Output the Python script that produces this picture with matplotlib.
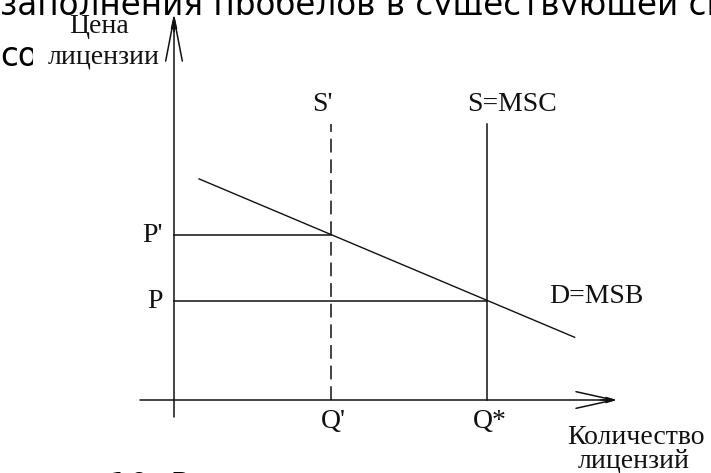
import matplotlib
matplotlib.use("Agg")
import matplotlib.pyplot as plt
from matplotlib.patches import Rectangle

# ---- data (economic diagram, arbitrary units) ----
q_labels = ["Q'", "Q*"]
q_values = [5.0, 10.0]           # Q' (licence cap), Q* (efficient quantity)
p_labels = ["P'", "P"]
p_values = [5.0, 3.0]            # P' (price at cap), P (efficient price)
supply_labels = ["S'", "S=MSC"]
supply_top = 8.35                # top of the vertical supply lines
demand_q = [0.8, 12.8]
demand_p = [6.7, 1.9]
demand_label = "D=MSB"
y_axis_label = ["Цена", "лицензии"]
x_axis_label = ["Количество", "лицензий"]
page_line1 = "заполнения пробелов в существующей си"
page_line2 = "со"
page_line3 = "10. Р"

# ---- figure geometry ----
W, H = 711, 473
OX, OY = 174, 400        # origin in pixels
QS, PS = 31.3, 33.0      # pixels per unit

def px(x, y):
    return ((x - OX) / QS, (OY - y) / PS)

fig = plt.figure(figsize=(W / 100, H / 100), dpi=100)
ax = fig.add_axes([0, 0, 1, 1])
ax.set_xlim(px(0, 0)[0], px(W, 0)[0])
ax.set_ylim(px(0, H)[1], px(0, 0)[1])
ax.axis("off")

serif = "Liberation Serif"
fs = 20
ink = "#111111"
pfs = 23.5

# background page text
ax.text(*px(0, 15), page_line1, fontsize=pfs, family="DejaVu Sans",
        color="black", va="baseline", ha="left", zorder=0)
ax.text(*px(0, 66), page_line2, fontsize=pfs, family="DejaVu Sans",
        color="black", va="baseline", ha="left", zorder=0)
ax.text(*px(108, 497), page_line3, fontsize=pfs, family="DejaVu Sans",
        color="black", va="baseline", ha="left", zorder=0, clip_on=False)

# white picture box (covers page text)
x0, y0 = px(33, 470)
x1, y1 = px(W + 5, 15)
ax.add_patch(Rectangle((x0, y0), x1 - x0, y1 - y0, facecolor="white",
                       edgecolor="none", zorder=1))

lw = 1.1
# axes with open arrows
xa0 = px(140, 0)[0]
xa1 = px(617, 0)[0]
ax.annotate("", xy=(xa1, 0), xytext=(xa0, 0),
            arrowprops=dict(arrowstyle="->,head_length=2.7,head_width=0.6",
                            lw=lw, color=ink, shrinkA=0, shrinkB=0), zorder=3)
ya0 = px(0, 417)[1]
ya1 = px(0, 14)[1]
ax.annotate("", xy=(0, ya1), xytext=(0, ya0),
            arrowprops=dict(arrowstyle="->,head_length=3.1,head_width=0.6",
                            lw=lw, color=ink, shrinkA=0, shrinkB=0), zorder=3)
# small filled tips
ax.annotate("", xy=(xa1, 0), xytext=(px(600, 0)[0], 0),
            arrowprops=dict(arrowstyle="-|>,head_length=0.6,head_width=0.18",
                            lw=lw, color=ink, shrinkA=0, shrinkB=0), zorder=3)
ax.annotate("", xy=(0, ya1), xytext=(0, px(0, 32)[1]),
            arrowprops=dict(arrowstyle="-|>,head_length=0.8,head_width=0.18",
                            lw=lw, color=ink, shrinkA=0, shrinkB=0), zorder=3)

# supply lines
ax.plot([q_values[0], q_values[0]], [0, supply_top], color=ink, lw=lw,
        linestyle=(0, (9, 4.5)), zorder=3)
ax.plot([q_values[1], q_values[1]], [0, supply_top], color=ink, lw=lw, zorder=3)

# price lines
for q, p in zip(q_values, p_values):
    ax.plot([0, q], [p, p], color=ink, lw=lw, zorder=3)

# demand
ax.plot(demand_q, demand_p, color=ink, lw=1.0, zorder=3)

# labels
label_dx = {"S'": -0.25, "S=MSC": 0.8}
for q, lab in zip(q_values, supply_labels):
    ax.text(q + label_dx[lab], px(0, 111)[1], lab,
            fontsize=fs, family=serif, color=ink, ha="center", va="baseline", zorder=4)
for q, lab in zip(q_values, q_labels):
    ax.text(q + 0.08, px(0, 428)[1], lab, fontsize=fs, family=serif, color=ink,
            ha="center", va="baseline", zorder=4)
for p, lab in zip(p_values, p_labels):
    ax.text(px(163, 0)[0], p - 0.22, lab, fontsize=fs, family=serif, color=ink,
            ha="right", va="baseline", zorder=4)
ax.text(demand_q[1] + 0.7, p_values[1] - 0.05, demand_label, fontsize=fs,
        family=serif, color=ink, ha="center", va="baseline", zorder=4)
ax.text(*px(99, 33), y_axis_label[0], fontsize=fs, family=serif, color=ink,
        ha="center", va="baseline", zorder=4)
ax.text(*px(104, 63), y_axis_label[1], fontsize=fs, family=serif, color=ink,
        ha="center", va="baseline", zorder=4)
ax.text(*px(636, 444), x_axis_label[0], fontsize=fs, family=serif, color=ink,
        ha="center", va="baseline", zorder=4)
ax.text(*px(634, 467), x_axis_label[1], fontsize=fs, family=serif, color=ink,
        ha="center", va="baseline", zorder=4)

fig.savefig("out.png", dpi=100)
